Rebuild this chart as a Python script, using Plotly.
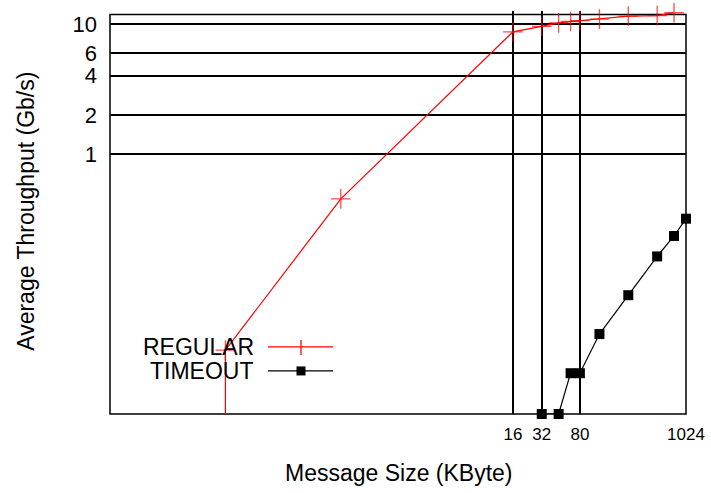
import numpy as np
import plotly.graph_objects as go

# ---- data (Message size in KByte, throughput in Gb/s) ----
regular_size = [0.016, 0.016, 0.256, 16, 32, 48, 64, 80, 128, 256, 512, 768]
regular_tput = [0.001, 0.031, 0.452, 8.7, 9.6, 10.2, 10.45, 10.6, 10.9, 11.5, 11.6, 12.2]
regular_marker_shown = [False, True, True, True, True, True, True, True, True, True, True, True]

timeout_size = [32, 48, 64, 80, 128, 256, 512, 768, 1024]
timeout_tput = [0.01, 0.01, 0.0206, 0.0206, 0.0412, 0.082, 0.163, 0.234, 0.318]

x_ticks = [16, 32, 80, 1024]
x_tick_labels = ["16", "32", "80", "1024"]
y_ticks = [1, 2, 4, 6, 10]
y_tick_labels = ["1", "2", "4", "6", "10"]

series_names = ["REGULAR", "TIMEOUT"]

# ---- layout geometry ----
W, H = 711, 493
BOX_TOP = 15.0                     # pixel row of the visible top border
PX_PER_DEC = 129.84
Y_LOG_MIN, Y_LOG_BOX = -2.0, 1.073
Y_LOG_MAX = 1.100                  # axis extends a little above the box so markers above it still show
L, R, B = 110, 25, 79
T = BOX_TOP - (Y_LOG_MAX - Y_LOG_BOX) * PX_PER_DEC
PW, PH = W - L - R, H - T - B

def px_x(px):
    return (px - L) / PW

def px_y(py):
    return (H - B - py) / PH

FONT = "Liberation Sans, Arial, Helvetica, sans-serif"

fig = go.Figure()

fig.add_trace(go.Scatter(
    x=regular_size, y=regular_tput, mode="lines+markers", name=series_names[0],
    line=dict(color="#ff0000", width=1.2),
    marker=dict(symbol="cross-thin", size=[14 if s else 0 for s in regular_marker_shown],
                color="#ff0000", line=dict(color="#ff0000", width=1.3)),
    cliponaxis=False, showlegend=False,
))
fig.add_trace(go.Scatter(
    x=timeout_size, y=timeout_tput, mode="lines+markers", name=series_names[1],
    line=dict(color="#000000", width=1.2),
    marker=dict(symbol="square", size=10, color="#000000"),
    cliponaxis=False, showlegend=False,
))

fig.update_xaxes(
    type="log", range=[-3, np.log10(1024)],
    tickvals=x_ticks, ticktext=x_tick_labels,
    showgrid=True, gridcolor="black", gridwidth=1.5,
    showline=False,
    ticks="", ticklabelstandoff=8,
    tickfont=dict(family=FONT, size=17, color="black"),
    zeroline=False,
)
fig.update_yaxes(
    type="log", range=[Y_LOG_MIN, Y_LOG_MAX],
    tickvals=y_ticks, ticktext=y_tick_labels,
    showgrid=True, gridcolor="black", gridwidth=1.5,
    showline=False,
    ticks="", ticklabelstandoff=12,
    tickfont=dict(family=FONT, size=22, color="black"),
    zeroline=False,
)

annotations = [
    dict(text="Message Size (KByte)", xref="paper", yref="paper",
         x=px_x(399), y=0, yshift=-(473 - (H - B)), xanchor="center", yanchor="middle",
         showarrow=False, font=dict(family=FONT, size=23, color="black")),
    dict(text="Average Throughput (Gb/s)", xref="paper", yref="paper",
         x=0, xshift=-(L - 26), y=px_y(212), xanchor="center", yanchor="middle",
         textangle=-90, showarrow=False, font=dict(family=FONT, size=23, color="black")),
]
legend_rows = [(series_names[0], 347), (series_names[1], 371)]
for name, py in legend_rows:
    annotations.append(dict(text=name, xref="paper", yref="paper",
                            x=px_x(256), y=px_y(py), xanchor="right", yanchor="middle",
                            showarrow=False, font=dict(family=FONT, size=23, color="black")))

shapes = [
    # plot frame
    dict(type="rect", xref="paper", yref="paper", x0=0, x1=1, y0=0, y1=px_y(BOX_TOP),
         line=dict(color="black", width=1.5), fillcolor="rgba(0,0,0,0)", layer="between"),
    # REGULAR legend sample
    dict(type="line", xref="paper", yref="paper", x0=px_x(268), x1=px_x(333),
         y0=px_y(347), y1=px_y(347), line=dict(color="#ff0000", width=1.3)),
    dict(type="line", xref="paper", yref="paper", x0=px_x(301), x1=px_x(301),
         y0=px_y(340), y1=px_y(355), line=dict(color="#ff0000", width=1.3)),
    # TIMEOUT legend sample
    dict(type="line", xref="paper", yref="paper", x0=px_x(268), x1=px_x(333),
         y0=px_y(371), y1=px_y(371), line=dict(color="black", width=1.3)),
    dict(type="rect", xref="paper", yref="paper", x0=px_x(296.5), x1=px_x(305.5),
         y0=px_y(375.5), y1=px_y(366.5), fillcolor="black", line=dict(width=0)),
]

fig.update_layout(
    width=W, height=H,
    margin=dict(l=L, r=R, t=T, b=B, autoexpand=False),
    plot_bgcolor="white", paper_bgcolor="white",
    annotations=annotations, shapes=shapes,
    font=dict(family=FONT, color="black"),
)

fig.write_html("out.html")
